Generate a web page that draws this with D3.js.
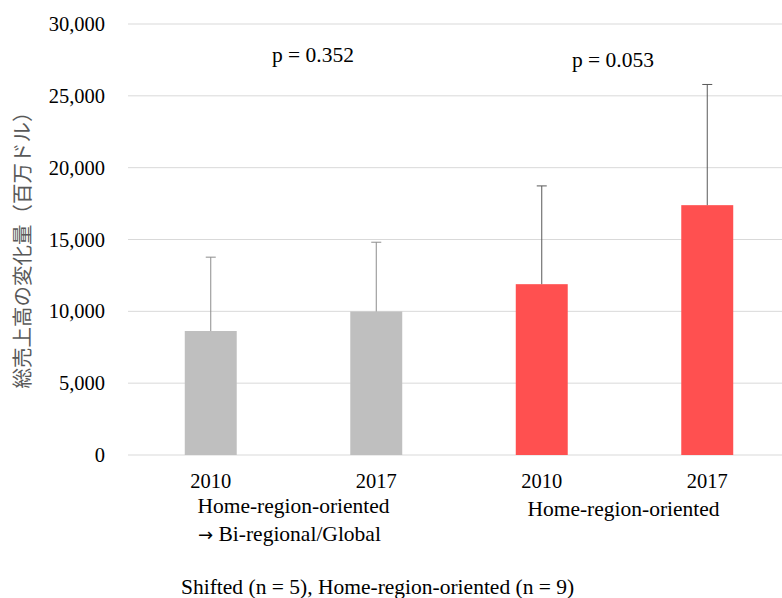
<!DOCTYPE html>
<html><head><meta charset="utf-8">
<script src="https://cdnjs.cloudflare.com/ajax/libs/d3/7.8.5/d3.min.js"></script>
<style>body{margin:0;background:#fff}svg{display:block}</style>
</head><body>
<script>
const categories = ["A2010","A2017","B2010","B2017"];
const yearLabels = ["2010","2017","2010","2017"];
const means = [8630, 9990, 11890, 17390];
const errUpper = [13770, 14810, 18730, 25790];
const barColors = ["#bfbfbf","#bfbfbf","#ff5050","#ff5050"];
const errColors = ["#8c8c8c","#8c8c8c","#595959","#595959"];
const yTicks = [0,5000,10000,15000,20000,25000,30000];
const pLabels = ["p = 0.352","p = 0.053"];

const W=782,H=598;
const m={left:128,right:-8,top:24,bottom:143};
const svg=d3.select("body").append("svg").attr("width",W).attr("height",H);
const x=d3.scaleBand().domain(categories).range([m.left,W-m.right]).paddingInner(0.686).paddingOuter(0.343);
const y=d3.scaleLinear().domain([0,30000]).range([H-m.bottom,m.top]);
const serif="'Liberation Serif','Times New Roman',serif";

// grid
svg.append("g").selectAll("line").data(yTicks).join("line")
 .attr("x1",m.left).attr("x2",W).attr("y1",d=>y(d)).attr("y2",d=>y(d))
 .attr("stroke","#d9d9d9").attr("stroke-width",1);

// y axis labels
const yAxis=d3.axisLeft(y).tickValues(yTicks).tickFormat(d3.format(",")).tickSize(0).tickPadding(0);
const ya=svg.append("g").attr("transform",`translate(105,0)`).call(yAxis);
ya.select(".domain").remove();
ya.selectAll("text").attr("font-family",serif).attr("font-size",20.5).attr("fill","#000");

// bars
svg.append("g").selectAll("rect").data(categories).join("rect")
 .attr("x",d=>x(d)).attr("width",x.bandwidth())
 .attr("y",(d,i)=>y(means[i])).attr("height",(d,i)=>y(0)-y(means[i]))
 .attr("fill",(d,i)=>barColors[i]);

// error bars
const eg=svg.append("g");
categories.forEach((c,i)=>{
  const cx=x(c)+x.bandwidth()/2;
  eg.append("line").attr("x1",cx).attr("x2",cx).attr("y1",y(means[i])).attr("y2",y(errUpper[i])).attr("stroke",errColors[i]).attr("stroke-width",1);
  eg.append("line").attr("x1",cx-5).attr("x2",cx+5).attr("y1",y(errUpper[i])).attr("y2",y(errUpper[i])).attr("stroke",errColors[i]).attr("stroke-width",1);
});

// x labels
svg.append("g").selectAll("text").data(categories).join("text")
 .attr("x",d=>x(d)+x.bandwidth()/2).attr("y",y(0)+33).attr("text-anchor","middle")
 .attr("font-family",serif).attr("font-size",20.5).attr("fill","#000").text((d,i)=>yearLabels[i]);

const g1=(x("A2010")+x("A2017")+x.bandwidth())/2;
const g2=(x("B2010")+x("B2017")+x.bandwidth())/2;
const lab=21.5;
svg.append("text").attr("x",g1).attr("y",y(0)+58).attr("text-anchor","middle").attr("font-family",serif).attr("font-size",lab).text("Home-region-oriented");
const t2=svg.append("text").attr("x",198).attr("y",y(0)+86).attr("font-family",serif).attr("font-size",lab);
t2.append("tspan").attr("font-family","'DejaVu Sans',sans-serif").attr("font-size",18).text("\u2192");
t2.append("tspan").text(" Bi-regional/Global");
svg.append("text").attr("x",g2-1).attr("y",y(0)+61).attr("text-anchor","middle").attr("font-family",serif).attr("font-size",lab).text("Home-region-oriented");

// p labels
svg.append("text").attr("x",313).attr("y",62).attr("text-anchor","middle").attr("font-family",serif).attr("font-size",lab).text(pLabels[0]);
svg.append("text").attr("x",613).attr("y",67).attr("text-anchor","middle").attr("font-family",serif).attr("font-size",lab).text(pLabels[1]);

// footer
svg.append("text").attr("x",181).attr("y",594).attr("font-family",serif).attr("font-size",lab).text("Shifted (n = 5), Home-region-oriented (n = 9)");

// y title
svg.append("text").attr("transform","translate(30,245) rotate(-90)").attr("text-anchor","middle")
 .attr("font-family","'Noto Sans CJK JP',sans-serif").attr("font-size",20.5).attr("fill","#595959")
 .text("総売上高の変化量（百万ドル）");
</script>
</body></html>
